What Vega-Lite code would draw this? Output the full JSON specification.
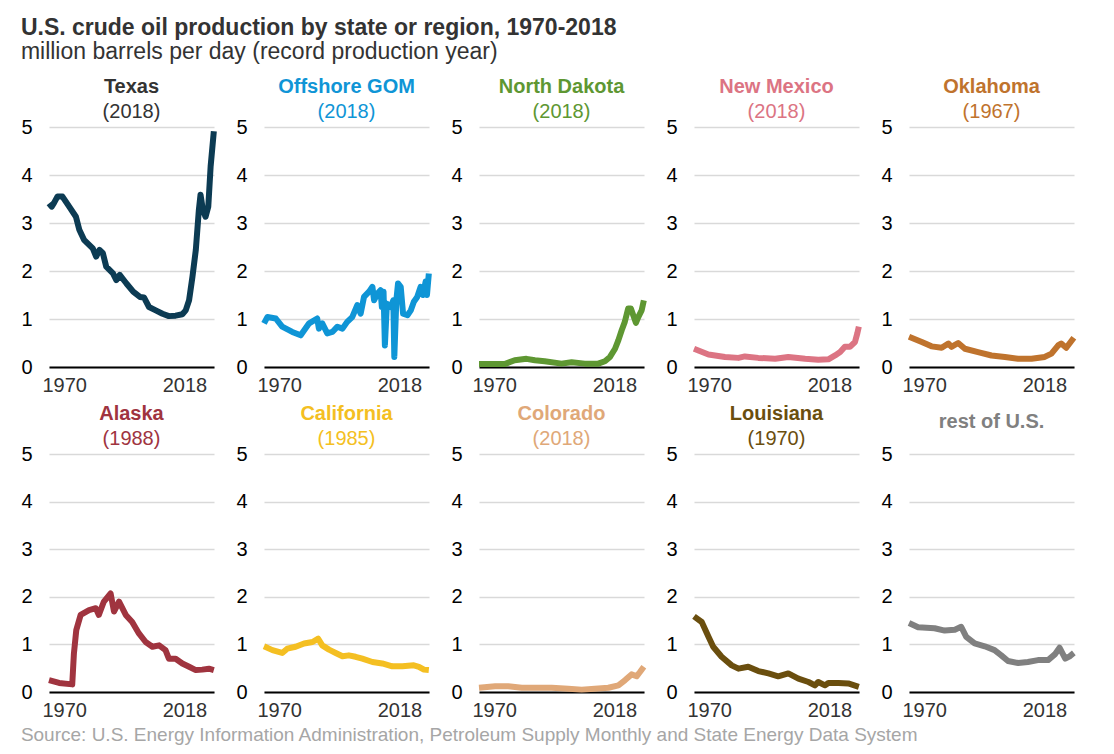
{
  "$schema": "https://vega.github.io/schema/vega-lite/v6.json",
  "padding": {"left": 20, "top": 17, "right": 10, "bottom": 10},
  "background": "white",
  "title": {
    "text": "U.S. crude oil production by state or region, 1970-2018",
    "subtitle": "million barrels per day (record production year)",
    "anchor": "start",
    "fontSize": 23,
    "fontWeight": "bold",
    "color": "#333333",
    "subtitleFontSize": 23,
    "subtitleColor": "#333333",
    "subtitlePadding": 1,
    "offset": 13
  },
  "datasets": {
    "oil": [
      {"r":"Texas","t":1970.0,"v":3.41},{"r":"Texas","t":1970.8,"v":3.34},{"r":"Texas","t":1971.5,"v":3.42},{"r":"Texas","t":1972.5,"v":3.55},{"r":"Texas","t":1974.0,"v":3.55},{"r":"Texas","t":1976.0,"v":3.34},{"r":"Texas","t":1978.0,"v":3.13},{"r":"Texas","t":1979.0,"v":2.86},{"r":"Texas","t":1980.4,"v":2.65},{"r":"Texas","t":1983.0,"v":2.47},{"r":"Texas","t":1984.0,"v":2.30},{"r":"Texas","t":1985.0,"v":2.44},{"r":"Texas","t":1986.0,"v":2.37},{"r":"Texas","t":1987.0,"v":2.09},{"r":"Texas","t":1989.0,"v":1.95},{"r":"Texas","t":1990.0,"v":1.81},{"r":"Texas","t":1991.0,"v":1.92},{"r":"Texas","t":1993.0,"v":1.74},{"r":"Texas","t":1995.0,"v":1.57},{"r":"Texas","t":1997.0,"v":1.46},{"r":"Texas","t":1998.2,"v":1.45},{"r":"Texas","t":1999.7,"v":1.25},{"r":"Texas","t":2001.7,"v":1.18},{"r":"Texas","t":2003.7,"v":1.11},{"r":"Texas","t":2005.6,"v":1.06},{"r":"Texas","t":2007.6,"v":1.07},{"r":"Texas","t":2009.6,"v":1.10},{"r":"Texas","t":2010.6,"v":1.18},{"r":"Texas","t":2011.6,"v":1.39},{"r":"Texas","t":2012.6,"v":1.88},{"r":"Texas","t":2013.6,"v":2.44},{"r":"Texas","t":2014.5,"v":3.27},{"r":"Texas","t":2015.0,"v":3.59},{"r":"Texas","t":2015.7,"v":3.27},{"r":"Texas","t":2016.5,"v":3.13},{"r":"Texas","t":2017.3,"v":3.34},{"r":"Texas","t":2018.0,"v":4.18},{"r":"Texas","t":2018.95,"v":4.91},

      {"r":"GOM","t":1970.0,"v":0.91},{"r":"GOM","t":1971.0,"v":1.04},{"r":"GOM","t":1973.5,"v":1.01},{"r":"GOM","t":1975.4,"v":0.84},{"r":"GOM","t":1978.4,"v":0.73},{"r":"GOM","t":1980.9,"v":0.66},{"r":"GOM","t":1983.4,"v":0.91},{"r":"GOM","t":1985.8,"v":1.01},{"r":"GOM","t":1986.3,"v":0.80},{"r":"GOM","t":1987.3,"v":0.91},{"r":"GOM","t":1988.8,"v":0.70},{"r":"GOM","t":1990.3,"v":0.73},{"r":"GOM","t":1991.8,"v":0.84},{"r":"GOM","t":1993.3,"v":0.80},{"r":"GOM","t":1994.7,"v":0.94},{"r":"GOM","t":1996.2,"v":1.04},{"r":"GOM","t":1997.7,"v":1.29},{"r":"GOM","t":1998.7,"v":1.11},{"r":"GOM","t":1999.7,"v":1.46},{"r":"GOM","t":2001.2,"v":1.57},{"r":"GOM","t":2002.2,"v":1.67},{"r":"GOM","t":2002.7,"v":1.39},{"r":"GOM","t":2003.7,"v":1.53},{"r":"GOM","t":2004.6,"v":1.60},{"r":"GOM","t":2005.0,"v":1.25},{"r":"GOM","t":2005.5,"v":1.57},{"r":"GOM","t":2005.9,"v":0.45},{"r":"GOM","t":2006.5,"v":1.32},{"r":"GOM","t":2007.6,"v":1.25},{"r":"GOM","t":2008.4,"v":1.39},{"r":"GOM","t":2008.7,"v":0.21},{"r":"GOM","t":2009.3,"v":1.39},{"r":"GOM","t":2009.8,"v":1.74},{"r":"GOM","t":2010.6,"v":1.67},{"r":"GOM","t":2011.3,"v":1.11},{"r":"GOM","t":2012.6,"v":1.08},{"r":"GOM","t":2013.6,"v":1.18},{"r":"GOM","t":2014.5,"v":1.36},{"r":"GOM","t":2015.5,"v":1.46},{"r":"GOM","t":2016.5,"v":1.67},{"r":"GOM","t":2017.2,"v":1.50},{"r":"GOM","t":2018.0,"v":1.78},{"r":"GOM","t":2018.4,"v":1.50},{"r":"GOM","t":2018.95,"v":1.95},

      {"r":"ND","t":1970.0,"v":0.06},{"r":"ND","t":1977.6,"v":0.06},{"r":"ND","t":1980.6,"v":0.14},{"r":"ND","t":1984.1,"v":0.17},{"r":"ND","t":1986.6,"v":0.14},{"r":"ND","t":1989.5,"v":0.12},{"r":"ND","t":1994.5,"v":0.07},{"r":"ND","t":1997.5,"v":0.10},{"r":"ND","t":2001.4,"v":0.07},{"r":"ND","t":2005.4,"v":0.07},{"r":"ND","t":2007.4,"v":0.12},{"r":"ND","t":2008.9,"v":0.21},{"r":"ND","t":2010.4,"v":0.38},{"r":"ND","t":2011.4,"v":0.56},{"r":"ND","t":2012.4,"v":0.77},{"r":"ND","t":2013.3,"v":0.94},{"r":"ND","t":2014.3,"v":1.22},{"r":"ND","t":2015.1,"v":1.22},{"r":"ND","t":2016.6,"v":0.92},{"r":"ND","t":2017.3,"v":1.04},{"r":"ND","t":2018.3,"v":1.18},{"r":"ND","t":2018.95,"v":1.39},

      {"r":"NM","t":1970.0,"v":0.38},{"r":"NM","t":1974.3,"v":0.26},{"r":"NM","t":1979.2,"v":0.21},{"r":"NM","t":1983.2,"v":0.19},{"r":"NM","t":1985.1,"v":0.22},{"r":"NM","t":1989.1,"v":0.19},{"r":"NM","t":1994.1,"v":0.17},{"r":"NM","t":1998.0,"v":0.21},{"r":"NM","t":2003.0,"v":0.17},{"r":"NM","t":2006.9,"v":0.15},{"r":"NM","t":2009.9,"v":0.16},{"r":"NM","t":2011.9,"v":0.24},{"r":"NM","t":2013.4,"v":0.31},{"r":"NM","t":2014.8,"v":0.42},{"r":"NM","t":2016.3,"v":0.42},{"r":"NM","t":2017.8,"v":0.52},{"r":"NM","t":2018.5,"v":0.70},{"r":"NM","t":2018.95,"v":0.84},

      {"r":"OK","t":1970.0,"v":0.63},{"r":"OK","t":1973.8,"v":0.52},{"r":"OK","t":1976.7,"v":0.43},{"r":"OK","t":1979.7,"v":0.40},{"r":"OK","t":1981.7,"v":0.49},{"r":"OK","t":1982.6,"v":0.42},{"r":"OK","t":1984.6,"v":0.50},{"r":"OK","t":1986.6,"v":0.38},{"r":"OK","t":1990.5,"v":0.31},{"r":"OK","t":1994.5,"v":0.24},{"r":"OK","t":1998.5,"v":0.21},{"r":"OK","t":2002.4,"v":0.17},{"r":"OK","t":2006.4,"v":0.17},{"r":"OK","t":2010.3,"v":0.21},{"r":"OK","t":2012.3,"v":0.28},{"r":"OK","t":2014.3,"v":0.45},{"r":"OK","t":2015.2,"v":0.49},{"r":"OK","t":2016.7,"v":0.40},{"r":"OK","t":2018.0,"v":0.52},{"r":"OK","t":2018.95,"v":0.61},

      {"r":"AK","t":1970.0,"v":0.25},{"r":"AK","t":1973.0,"v":0.19},{"r":"AK","t":1976.9,"v":0.16},{"r":"AK","t":1977.4,"v":0.81},{"r":"AK","t":1978.1,"v":1.30},{"r":"AK","t":1979.4,"v":1.62},{"r":"AK","t":1981.9,"v":1.72},{"r":"AK","t":1983.9,"v":1.76},{"r":"AK","t":1984.8,"v":1.62},{"r":"AK","t":1986.3,"v":1.90},{"r":"AK","t":1988.3,"v":2.07},{"r":"AK","t":1989.3,"v":1.69},{"r":"AK","t":1990.8,"v":1.90},{"r":"AK","t":1992.8,"v":1.62},{"r":"AK","t":1994.7,"v":1.47},{"r":"AK","t":1996.7,"v":1.23},{"r":"AK","t":1998.7,"v":1.05},{"r":"AK","t":2000.7,"v":0.95},{"r":"AK","t":2002.7,"v":0.98},{"r":"AK","t":2004.6,"v":0.88},{"r":"AK","t":2005.6,"v":0.70},{"r":"AK","t":2007.6,"v":0.70},{"r":"AK","t":2009.6,"v":0.60},{"r":"AK","t":2011.6,"v":0.53},{"r":"AK","t":2013.6,"v":0.46},{"r":"AK","t":2015.5,"v":0.47},{"r":"AK","t":2017.5,"v":0.49},{"r":"AK","t":2018.95,"v":0.46},

      {"r":"CA","t":1970.0,"v":0.96},{"r":"CA","t":1972.5,"v":0.88},{"r":"CA","t":1975.4,"v":0.82},{"r":"CA","t":1976.9,"v":0.91},{"r":"CA","t":1979.4,"v":0.95},{"r":"CA","t":1981.9,"v":1.02},{"r":"CA","t":1984.4,"v":1.05},{"r":"CA","t":1986.1,"v":1.12},{"r":"CA","t":1987.3,"v":0.98},{"r":"CA","t":1989.3,"v":0.89},{"r":"CA","t":1991.3,"v":0.82},{"r":"CA","t":1993.3,"v":0.75},{"r":"CA","t":1995.2,"v":0.77},{"r":"CA","t":1997.2,"v":0.74},{"r":"CA","t":1999.2,"v":0.70},{"r":"CA","t":2002.2,"v":0.63},{"r":"CA","t":2005.1,"v":0.60},{"r":"CA","t":2008.1,"v":0.54},{"r":"CA","t":2011.1,"v":0.54},{"r":"CA","t":2014.5,"v":0.56},{"r":"CA","t":2016.0,"v":0.53},{"r":"CA","t":2017.5,"v":0.47},{"r":"CA","t":2018.95,"v":0.46},

      {"r":"CO","t":1970.0,"v":0.09},{"r":"CO","t":1974.8,"v":0.12},{"r":"CO","t":1978.7,"v":0.12},{"r":"CO","t":1982.7,"v":0.09},{"r":"CO","t":1986.6,"v":0.09},{"r":"CO","t":1991.6,"v":0.09},{"r":"CO","t":1996.5,"v":0.07},{"r":"CO","t":2000.5,"v":0.05},{"r":"CO","t":2004.4,"v":0.07},{"r":"CO","t":2008.4,"v":0.09},{"r":"CO","t":2011.4,"v":0.14},{"r":"CO","t":2013.4,"v":0.25},{"r":"CO","t":2015.3,"v":0.37},{"r":"CO","t":2016.8,"v":0.33},{"r":"CO","t":2017.8,"v":0.42},{"r":"CO","t":2018.95,"v":0.53},

      {"r":"LA","t":1970.0,"v":1.59},{"r":"LA","t":1972.3,"v":1.47},{"r":"LA","t":1974.3,"v":1.16},{"r":"LA","t":1975.7,"v":0.95},{"r":"LA","t":1978.2,"v":0.74},{"r":"LA","t":1981.2,"v":0.56},{"r":"LA","t":1983.2,"v":0.49},{"r":"LA","t":1986.1,"v":0.53},{"r":"LA","t":1989.1,"v":0.44},{"r":"LA","t":1992.1,"v":0.39},{"r":"LA","t":1995.0,"v":0.33},{"r":"LA","t":1998.0,"v":0.39},{"r":"LA","t":2001.0,"v":0.28},{"r":"LA","t":2004.0,"v":0.21},{"r":"LA","t":2005.9,"v":0.14},{"r":"LA","t":2006.9,"v":0.21},{"r":"LA","t":2008.9,"v":0.14},{"r":"LA","t":2009.9,"v":0.19},{"r":"LA","t":2012.9,"v":0.19},{"r":"LA","t":2015.8,"v":0.18},{"r":"LA","t":2018.95,"v":0.11},

      {"r":"REST","t":1970.0,"v":1.45},{"r":"REST","t":1972.7,"v":1.36},{"r":"REST","t":1977.6,"v":1.34},{"r":"REST","t":1980.6,"v":1.29},{"r":"REST","t":1983.6,"v":1.31},{"r":"REST","t":1985.5,"v":1.37},{"r":"REST","t":1987.0,"v":1.16},{"r":"REST","t":1989.5,"v":1.02},{"r":"REST","t":1992.5,"v":0.96},{"r":"REST","t":1995.4,"v":0.88},{"r":"REST","t":1997.4,"v":0.77},{"r":"REST","t":1999.4,"v":0.65},{"r":"REST","t":2002.4,"v":0.61},{"r":"REST","t":2005.3,"v":0.63},{"r":"REST","t":2008.3,"v":0.67},{"r":"REST","t":2011.3,"v":0.67},{"r":"REST","t":2013.3,"v":0.79},{"r":"REST","t":2014.7,"v":0.93},{"r":"REST","t":2016.4,"v":0.70},{"r":"REST","t":2017.7,"v":0.75},{"r":"REST","t":2018.95,"v":0.82}
    ]
  },
  "data": {"name": "oil"},
  "vconcat": [
    {
      "hconcat": [
        {"width": 165, "height": 240, "title": {"text": "Texas", "subtitle": "(2018)", "color": "#333333", "subtitleColor": "#333333"},
         "transform": [{"filter": "datum.r == 'Texas'"}], "mark": {"type": "line", "color": "#0c3b53"},
         "encoding": {"x": {"field": "t", "type": "quantitative", "scale": {"domain": [1970, 2019], "nice": false, "zero": false}, "axis": {"values": [1970, 2018], "format": "d", "labelAlign": {"expr": "datum.value < 2000 ? 'left' : 'right'"}, "labelOffset": {"expr": "datum.value < 2000 ? -7 : -4"}}},
                      "y": {"field": "v", "type": "quantitative", "scale": {"domain": [0, 5], "nice": false}, "axis": {"values": [0, 1, 2, 3, 4, 5]}}}},
        {"width": 165, "height": 240, "title": {"text": "Offshore GOM", "subtitle": "(2018)", "color": "#0f95d6", "subtitleColor": "#0f95d6"},
         "transform": [{"filter": "datum.r == 'GOM'"}], "mark": {"type": "line", "color": "#0f95d6"},
         "encoding": {"x": {"field": "t", "type": "quantitative", "scale": {"domain": [1970, 2019], "nice": false, "zero": false}, "axis": {"values": [1970, 2018], "format": "d", "labelAlign": {"expr": "datum.value < 2000 ? 'left' : 'right'"}, "labelOffset": {"expr": "datum.value < 2000 ? -7 : -4"}}},
                      "y": {"field": "v", "type": "quantitative", "scale": {"domain": [0, 5], "nice": false}, "axis": {"values": [0, 1, 2, 3, 4, 5]}}}},
        {"width": 165, "height": 240, "title": {"text": "North Dakota", "subtitle": "(2018)", "color": "#5e9732", "subtitleColor": "#5e9732"},
         "transform": [{"filter": "datum.r == 'ND'"}], "mark": {"type": "line", "color": "#5e9732"},
         "encoding": {"x": {"field": "t", "type": "quantitative", "scale": {"domain": [1970, 2019], "nice": false, "zero": false}, "axis": {"values": [1970, 2018], "format": "d", "labelAlign": {"expr": "datum.value < 2000 ? 'left' : 'right'"}, "labelOffset": {"expr": "datum.value < 2000 ? -7 : -4"}}},
                      "y": {"field": "v", "type": "quantitative", "scale": {"domain": [0, 5], "nice": false}, "axis": {"values": [0, 1, 2, 3, 4, 5]}}}},
        {"width": 165, "height": 240, "title": {"text": "New Mexico", "subtitle": "(2018)", "color": "#dc7483", "subtitleColor": "#dc7483"},
         "transform": [{"filter": "datum.r == 'NM'"}], "mark": {"type": "line", "color": "#dc7483"},
         "encoding": {"x": {"field": "t", "type": "quantitative", "scale": {"domain": [1970, 2019], "nice": false, "zero": false}, "axis": {"values": [1970, 2018], "format": "d", "labelAlign": {"expr": "datum.value < 2000 ? 'left' : 'right'"}, "labelOffset": {"expr": "datum.value < 2000 ? -7 : -4"}}},
                      "y": {"field": "v", "type": "quantitative", "scale": {"domain": [0, 5], "nice": false}, "axis": {"values": [0, 1, 2, 3, 4, 5]}}}},
        {"width": 165, "height": 240, "title": {"text": "Oklahoma", "subtitle": "(1967)", "color": "#bf732d", "subtitleColor": "#bf732d"},
         "transform": [{"filter": "datum.r == 'OK'"}], "mark": {"type": "line", "color": "#bf732d"},
         "encoding": {"x": {"field": "t", "type": "quantitative", "scale": {"domain": [1970, 2019], "nice": false, "zero": false}, "axis": {"values": [1970, 2018], "format": "d", "labelAlign": {"expr": "datum.value < 2000 ? 'left' : 'right'"}, "labelOffset": {"expr": "datum.value < 2000 ? -7 : -4"}}},
                      "y": {"field": "v", "type": "quantitative", "scale": {"domain": [0, 5], "nice": false}, "axis": {"values": [0, 1, 2, 3, 4, 5]}}}}
      ]
    },
    {
      "title": {"text": "Source: U.S. Energy Information Administration, Petroleum Supply Monthly and State Energy Data System", "orient": "bottom", "anchor": "start", "fontSize": 19, "fontWeight": "normal", "color": "#a6a6a6", "offset": 6},
      "hconcat": [
        {"width": 165, "height": 238, "title": {"text": "Alaska", "subtitle": "(1988)", "color": "#a0343f", "subtitleColor": "#a0343f"},
         "transform": [{"filter": "datum.r == 'AK'"}], "mark": {"type": "line", "color": "#a0343f"},
         "encoding": {"x": {"field": "t", "type": "quantitative", "scale": {"domain": [1970, 2019], "nice": false, "zero": false}, "axis": {"values": [1970, 2018], "format": "d", "labelAlign": {"expr": "datum.value < 2000 ? 'left' : 'right'"}, "labelOffset": {"expr": "datum.value < 2000 ? -7 : -4"}}},
                      "y": {"field": "v", "type": "quantitative", "scale": {"domain": [0, 5], "nice": false}, "axis": {"values": [0, 1, 2, 3, 4, 5]}}}},
        {"width": 165, "height": 238, "title": {"text": "California", "subtitle": "(1985)", "color": "#f4bf22", "subtitleColor": "#f4bf22"},
         "transform": [{"filter": "datum.r == 'CA'"}], "mark": {"type": "line", "color": "#f4bf22"},
         "encoding": {"x": {"field": "t", "type": "quantitative", "scale": {"domain": [1970, 2019], "nice": false, "zero": false}, "axis": {"values": [1970, 2018], "format": "d", "labelAlign": {"expr": "datum.value < 2000 ? 'left' : 'right'"}, "labelOffset": {"expr": "datum.value < 2000 ? -7 : -4"}}},
                      "y": {"field": "v", "type": "quantitative", "scale": {"domain": [0, 5], "nice": false}, "axis": {"values": [0, 1, 2, 3, 4, 5]}}}},
        {"width": 165, "height": 238, "title": {"text": "Colorado", "subtitle": "(2018)", "color": "#e0a878", "subtitleColor": "#e0a878"},
         "transform": [{"filter": "datum.r == 'CO'"}], "mark": {"type": "line", "color": "#e0a878"},
         "encoding": {"x": {"field": "t", "type": "quantitative", "scale": {"domain": [1970, 2019], "nice": false, "zero": false}, "axis": {"values": [1970, 2018], "format": "d", "labelAlign": {"expr": "datum.value < 2000 ? 'left' : 'right'"}, "labelOffset": {"expr": "datum.value < 2000 ? -7 : -4"}}},
                      "y": {"field": "v", "type": "quantitative", "scale": {"domain": [0, 5], "nice": false}, "axis": {"values": [0, 1, 2, 3, 4, 5]}}}},
        {"width": 165, "height": 238, "title": {"text": "Louisiana", "subtitle": "(1970)", "color": "#6a4e0e", "subtitleColor": "#6a4e0e"},
         "transform": [{"filter": "datum.r == 'LA'"}], "mark": {"type": "line", "color": "#6a4e0e"},
         "encoding": {"x": {"field": "t", "type": "quantitative", "scale": {"domain": [1970, 2019], "nice": false, "zero": false}, "axis": {"values": [1970, 2018], "format": "d", "labelAlign": {"expr": "datum.value < 2000 ? 'left' : 'right'"}, "labelOffset": {"expr": "datum.value < 2000 ? -7 : -4"}}},
                      "y": {"field": "v", "type": "quantitative", "scale": {"domain": [0, 5], "nice": false}, "axis": {"values": [0, 1, 2, 3, 4, 5]}}}},
        {"width": 165, "height": 238, "title": {"text": "rest of U.S.", "color": "#808080", "offset": 12},
         "transform": [{"filter": "datum.r == 'REST'"}], "mark": {"type": "line", "color": "#808080"},
         "encoding": {"x": {"field": "t", "type": "quantitative", "scale": {"domain": [1970, 2019], "nice": false, "zero": false}, "axis": {"values": [1970, 2018], "format": "d", "labelAlign": {"expr": "datum.value < 2000 ? 'left' : 'right'"}, "labelOffset": {"expr": "datum.value < 2000 ? -7 : -4"}}},
                      "y": {"field": "v", "type": "quantitative", "scale": {"domain": [0, 5], "nice": false}, "axis": {"values": [0, 1, 2, 3, 4, 5]}}}}
      ]
    }
  ],
  "spacing": 9,
  "config": {
    "font": "Liberation Sans",
    "view": {"stroke": null},
    "concat": {"spacing": 18},
    "line": {"strokeWidth": 6, "strokeJoin": "round", "strokeCap": "butt"},
    "title": {"fontSize": 20, "fontWeight": "bold", "subtitleFontSize": 20, "subtitleFontWeight": "normal", "anchor": "middle", "offset": -5, "subtitlePadding": 5},
    "axisX": {"grid": false, "ticks": false, "domainColor": "#000000", "domainWidth": 2, "labelFontSize": 20, "labelColor": "#333333", "labelPadding": 8, "title": null},
    "axisY": {"grid": true, "gridColor": "#d9d9d9", "gridWidth": 1.5, "domain": false, "ticks": false, "labelFontSize": 20, "labelColor": "#000000", "labelPadding": 17, "title": null}
  }
}
